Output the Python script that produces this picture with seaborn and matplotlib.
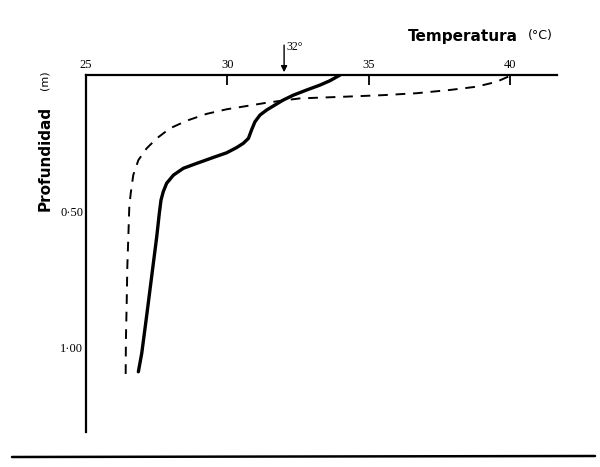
import matplotlib
matplotlib.use("Agg")
import matplotlib.pyplot as plt
import seaborn as sns
import pandas as pd
from matplotlib.lines import Line2D

# Data (temperature in °C, depth in m)
solid_temp = [33.98, 33.62, 33.27, 32.80, 32.33, 31.97, 31.68, 31.38, 31.15, 30.97, 30.85, 30.74,
              30.56, 30.32, 29.97, 29.50, 28.91, 28.44, 28.09, 27.85, 27.73, 27.65, 27.59, 27.50,
              27.32, 27.14, 26.97, 26.85]
solid_depth = [0.0, 0.021, 0.037, 0.055, 0.074, 0.092, 0.110, 0.129, 0.147, 0.172, 0.202, 0.233,
               0.251, 0.267, 0.286, 0.303, 0.325, 0.343, 0.368, 0.398, 0.429, 0.460, 0.509, 0.594,
               0.741, 0.888, 1.023, 1.091]

dashed_temp = [39.92, 39.51, 38.80, 37.86, 36.68, 35.51, 34.09, 32.56, 32.09, 31.38, 30.68, 29.97,
               29.26, 28.56, 27.97, 27.50, 27.14, 26.85, 26.67, 26.58, 26.53, 26.50, 26.46, 26.44,
               26.41, 26.40]
dashed_depth = [0.006, 0.025, 0.043, 0.055, 0.067, 0.074, 0.080, 0.086, 0.092, 0.102, 0.114, 0.126,
                0.143, 0.168, 0.196, 0.233, 0.270, 0.313, 0.368, 0.435, 0.484, 0.582, 0.705, 0.827,
                0.974, 1.127]

x_ticks = [25, 30, 35, 40]
x_ticklabels = ["25", "30", "35", "40"]
y_ticks = [0.5, 1.0]
y_ticklabels = ["0·50", "1·00"]

sns.set_theme(style="white")
plt.rcParams["font.family"] = ["DejaVu Sans"]

fig = plt.figure(figsize=(6.0, 4.67), dpi=100)
ax = fig.add_axes([86/600, 1-432/467, 471/600, 357/467])

df_s = pd.DataFrame({"T": solid_temp, "d": solid_depth})
df_d = pd.DataFrame({"T": dashed_temp, "d": dashed_depth})
sns.lineplot(data=df_s, x="T", y="d", sort=False, estimator=None, color="black", lw=2.4, ax=ax)
sns.lineplot(data=df_d, x="T", y="d", sort=False, estimator=None, color="black", lw=1.4,
             linestyle=(0, (5, 4)), ax=ax)

ax.set_xlim(25, 25 + 471/28.3)
ax.set_ylim(357/272, 0)
for s in ["bottom", "right"]:
    ax.spines[s].set_visible(False)
for s in ["top", "left"]:
    ax.spines[s].set_color("black")
    ax.spines[s].set_linewidth(1.6)

ax.xaxis.tick_top()
ax.set_xticks(x_ticks)
ax.set_xticklabels(x_ticklabels, family="Liberation Serif", fontsize=9)
ax.set_yticks(y_ticks)
ax.set_yticklabels(y_ticklabels, family="Liberation Serif", fontsize=9)
ax.tick_params(axis="x", direction="in", length=7, width=1.3, pad=3, colors="black")
ax.tick_params(axis="y", direction="in", length=7, width=1.3, pad=2, colors="black")
ax.set_xlabel("")
ax.set_ylabel("")

# arrow at 32 degrees
ax.annotate("", xy=(32, 0.0), xytext=(32, -0.12),
            arrowprops=dict(arrowstyle="-|>", color="black", lw=1.0, mutation_scale=9),
            annotation_clip=False)
ax.text(32.08, -0.103, "32°", family="Liberation Serif", fontsize=8.5, ha="left", va="center",
        color="black", clip_on=False)

fig.text(408/600, 1-36/467, "Temperatura", fontsize=11, fontweight="bold", ha="left",
         va="center", color="black")
fig.text(528/600, 1-36/467, "(°C)", fontsize=9, ha="left", va="center", color="black")
fig.text(45/600, 1-158/467, "Profundidad", fontsize=11, fontweight="bold", rotation=90,
         ha="center", va="center", color="black")
fig.text(45/600, 1-80/467, "(m)", fontsize=8, rotation=90, ha="center", va="center",
         color="black")

fig.add_artist(Line2D([12/600, 595/600], [1-457/467, 1-456/467], color="black", lw=1.8))

fig.savefig("out.png", dpi=100, facecolor="white")
